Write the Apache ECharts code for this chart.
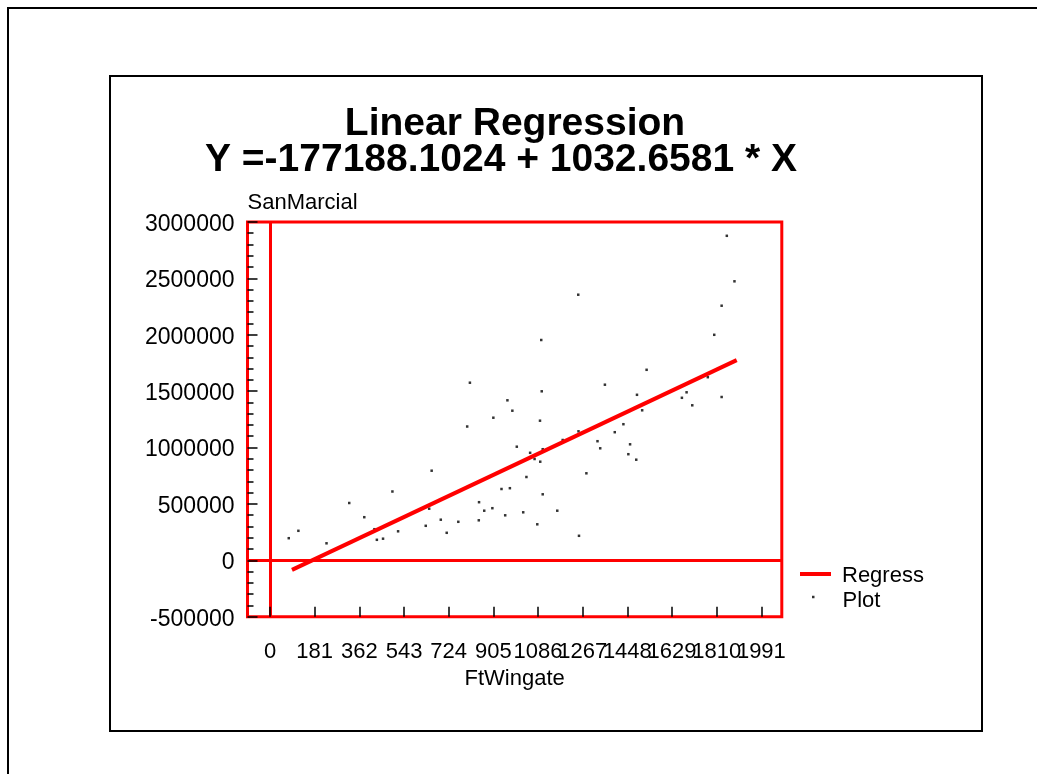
<!DOCTYPE html>
<html><head><meta charset="utf-8">
<script src="https://cdn.jsdelivr.net/npm/echarts@6/dist/echarts.min.js"></script>
<style>html,body{margin:0;padding:0;background:#fff;}#chart{width:1037px;height:774px;}</style>
</head><body><div id="chart"></div>
<script>
// ---- data ----
const ftWingate = [76,115,229,321,382,423,433,458,496,519,631,645,655,692,716,763,799,810,846,847,868,901,905,938,953,962,972,982,1000,1026,1039,1054,1072,1083,1094,1095,1099,1101,1105,1105,1164,1186,1249,1250,1252,1282,1327,1338,1357,1397,1432,1452,1459,1484,1487,1508,1526,1669,1688,1711,1774,1800,1830,1830,1851,1882];
const sanMarcial = [196000,261500,150700,508000,382100,275700,181700,191500,609900,257100,305800,457400,794300,359900,243800,341300,1186100,1574400,354600,515100,439700,461900,1264100,632100,398900,1418400,639200,1326200,1007100,425500,738500,953000,898000,319100,1237600,874100,1953000,1498200,984900,585100,439700,1066500,2354500,1143600,217200,771300,1055800,992900,1556700,1135600,1206500,940600,1028300,891800,1467200,1329800,1688800,1440600,1489300,1374100,1623200,1999100,1447700,2257000,2876700,2473300];
const regressX = [89, 1891];
const regressY = [-85000, 1775000];
const xTickValues = [0,181,362,543,724,905,1086,1267,1448,1629,1810,1991];
const xTickLabels = ['0','181','362','543','724','905','1086','1267','1448','1629','1810','1991'];
const xRange = [-91.2, 2073.8];
const yRange = [-500000, 3000000];
const yInterval = 500000;
const titleLines = ['Linear Regression', 'Y =-177188.1024 + 1032.6581 * X'];
const xName = 'FtWingate';
const yName = 'SanMarcial';
const seriesNames = ['Regress', 'Plot'];

const FONT = 'Liberation Sans, Arial, sans-serif';
const RED = '#ff0000';

const chart = echarts.init(document.getElementById('chart'), null, {renderer: 'canvas'});

const points = ftWingate.map((x, i) => [x, sanMarcial[i]]);
const regress = regressX.map((x, i) => [x, regressY[i]]);
// an extra, empty label slot at the axis end keeps ECharts from dropping "1810"/"1991"
const xLabelSlots = xTickValues.concat([xRange[1]]);

chart.setOption({
  animation: false,
  backgroundColor: '#fff',
  title: [
    {text: titleLines[0], left: 515, top: 104.5, padding: 0, textAlign: 'center', textVerticalAlign: 'top',
     textStyle: {fontFamily: FONT, fontWeight: 'bold', fontSize: 39, color: '#000'}},
    {text: titleLines[1], left: 501, top: 141, padding: 0, textAlign: 'center', textVerticalAlign: 'top',
     textStyle: {fontFamily: FONT, fontWeight: 'bold', fontSize: 39, color: '#000'}}
  ],
  legend: [
    {data: [seriesNames[0]], left: 800, top: 565, orient: 'vertical', padding: 0,
     icon: 'rect', itemWidth: 31, itemHeight: 4, selectedMode: false,
     formatter: '{t|{name}}',
     textStyle: {fontFamily: FONT, fontSize: 22, color: '#000', padding: [0, 0, 0, 6],
                 rich: {t: {fontFamily: FONT, fontSize: 22, color: '#000', lineHeight: 26, verticalAlign: 'bottom'}}}},
    {data: [seriesNames[1]], left: 812, top: 590, orient: 'vertical', padding: 0,
     icon: 'rect', itemWidth: 2.5, itemHeight: 2.5, selectedMode: false,
     formatter: '{t|{name}}',
     textStyle: {fontFamily: FONT, fontSize: 22, color: '#000', padding: [0, 0, 0, 23],
                 rich: {t: {fontFamily: FONT, fontSize: 22, color: '#000', lineHeight: 30, verticalAlign: 'bottom'}}}}
  ],
  grid: {
    left: 247.5, top: 221.9, width: 534.3, height: 394.8,
    show: true, borderColor: RED, borderWidth: 3, backgroundColor: 'transparent'
  },
  xAxis: {
    type: 'value', min: xRange[0], max: xRange[1], z: 5,
    name: xName, nameLocation: 'middle', nameGap: 48,
    nameTextStyle: {fontFamily: FONT, fontSize: 22, color: '#000', verticalAlign: 'top'},
    axisLine: {show: false, onZero: false},
    splitLine: {show: false},
    axisTick: {show: true, inside: true, length: 10, customValues: xTickValues,
               lineStyle: {color: '#000', width: 1.5}},
    axisLabel: {customValues: xLabelSlots, margin: 24, fontFamily: FONT, fontSize: 22, color: '#000',
                hideOverlap: false,
                formatter: v => { const i = xTickValues.indexOf(v); return i >= 0 ? xTickLabels[i] : ''; }}
  },
  yAxis: {
    type: 'value', min: yRange[0], max: yRange[1], interval: yInterval, z: 5,
    name: yName, nameLocation: 'end', nameGap: 8,
    nameTextStyle: {fontFamily: FONT, fontSize: 22, color: '#000', align: 'left', verticalAlign: 'bottom'},
    axisLine: {show: false, onZero: false},
    splitLine: {show: false},
    axisTick: {show: true, inside: true, length: 10, lineStyle: {color: '#000', width: 1.5}},
    minorTick: {show: true, splitNumber: 5, length: 6, lineStyle: {color: '#000', width: 1.5}},
    minorSplitLine: {show: false},
    axisLabel: {margin: 13, fontFamily: FONT, fontSize: 23, color: '#000',
                verticalAlign: 'top', lineHeight: 5, formatter: v => String(v)}
  },
  series: [
    {
      name: seriesNames[0], type: 'line', data: regress, showSymbol: false, symbol: 'none',
      color: RED, lineStyle: {color: RED, width: 4}, z: 4, silent: true
    },
    {
      name: seriesNames[1], type: 'scatter', data: points, symbol: 'rect', symbolSize: 2.5,
      color: '#000', itemStyle: {color: '#000'}, z: 3, silent: true,
      markLine: {
        silent: true, symbol: 'none', label: {show: false},
        lineStyle: {color: RED, width: 3, type: 'solid'},
        data: [{xAxis: 0}, {yAxis: 0}]
      }
    }
  ],
  graphic: [
    {type: 'rect', shape: {x: 8, y: 8, width: 1100, height: 900}, silent: true,
     style: {fill: 'none', stroke: '#000', lineWidth: 2}},
    {type: 'rect', shape: {x: 110, y: 76, width: 872, height: 655}, silent: true,
     style: {fill: 'none', stroke: '#000', lineWidth: 2}}
  ]
});
</script>
</body></html>
